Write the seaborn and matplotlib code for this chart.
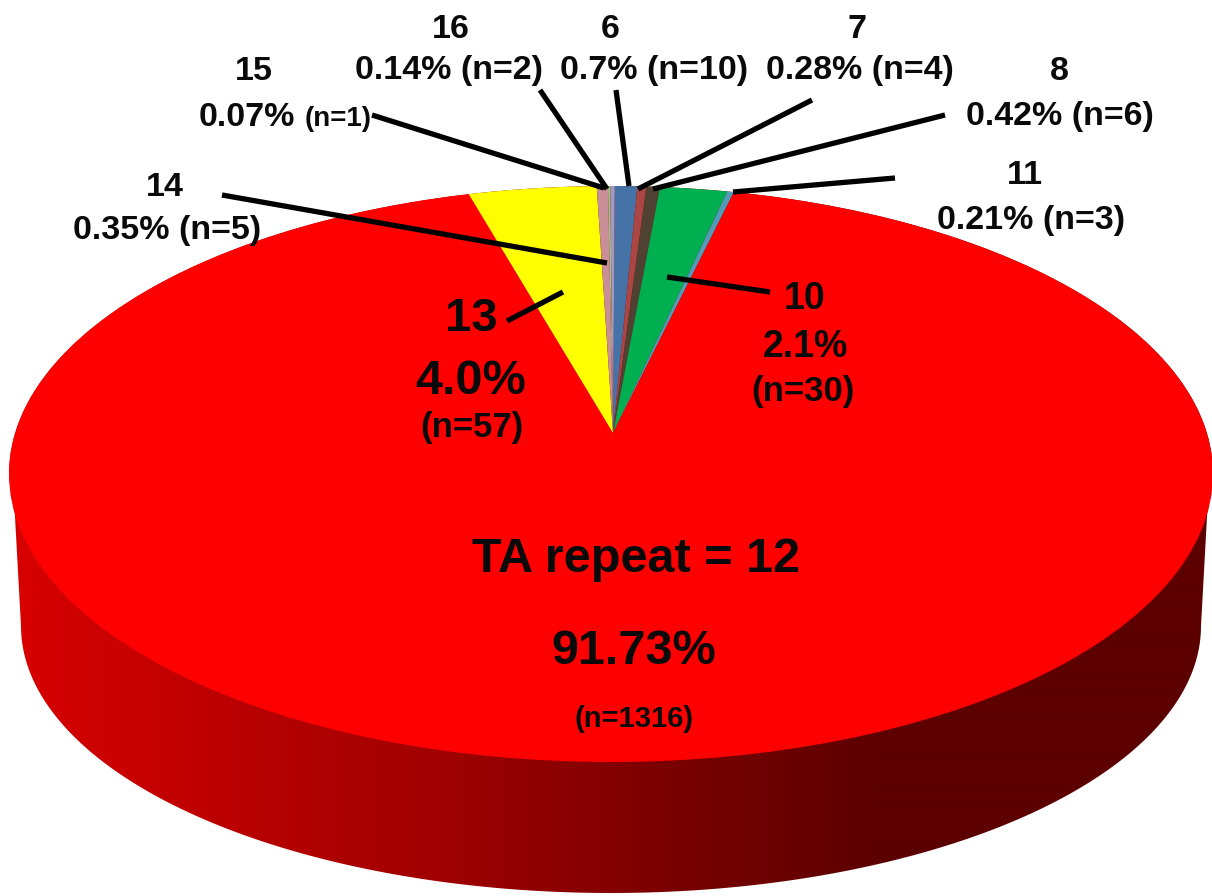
import numpy as np
import matplotlib
matplotlib.use("Agg")
import matplotlib.pyplot as plt
from matplotlib.patches import Ellipse, Polygon
import seaborn as sns

# ---- data ----
repeats = ["6", "7", "8", "10", "11", "12", "13", "14", "15", "16"]
counts = [10, 4, 6, 30, 3, 1316, 57, 5, 1, 2]
slice_colors = ["#4572A7", "#AA4643", "#4F4233", "#00B050", "#4F9BB8",
                "#FF0000", "#FFFF00", "#C98F98", "#A8C080", "#A099C0"]
side_colors = ["#DA0000", "#BC0000", "#A00000", "#7C0000", "#5C0000"]

W, H = 1212, 896
sns.set_theme(style="white")
plt.rcParams["font.family"] = ["Liberation Sans", "DejaVu Sans"]
fig = plt.figure(figsize=(W / 100, H / 100), dpi=100, facecolor="white")

# geometry of the tilted disc, in pixels
APEX = (613, 433)
TOP = (611, 474, 602, 288)
BOT = (611, 626, 590, 267)

# ---- side wall with horizontal shading ----
ax_side = fig.add_axes([0, 0, 1, 1])
ax_side.set_axis_off()
cmap = sns.blend_palette(side_colors, as_cmap=True)
shade = np.clip(np.linspace(0, W, W) / 880, 0, 1)[None, :]
im = ax_side.imshow(shade, cmap=cmap, vmin=0, vmax=1, aspect="auto",
                    extent=(0, W, H, 0), interpolation="bilinear")
ax_side.set_xlim(0, W)
ax_side.set_ylim(H, 0)
t = np.linspace(np.pi, 0, 300)
lower = np.c_[BOT[0] + BOT[2] * np.cos(t), BOT[1] + BOT[3] * np.sin(t)]
upper = np.c_[TOP[0] + TOP[2] * np.cos(t), TOP[1] - TOP[3] * np.sin(t)]
t0 = np.radians(8)
join_r = (TOP[0] + TOP[2] * np.cos(t0), TOP[1] + TOP[3] * np.sin(t0))
join_l = (TOP[0] - TOP[2] * np.cos(t0), TOP[1] + TOP[3] * np.sin(t0))
outline = np.vstack([[join_l], lower, [join_r], upper[::-1]])
clip = Polygon(outline, closed=True, transform=ax_side.transData,
               facecolor="none", edgecolor="none")
ax_side.add_patch(clip)
im.set_clip_path(clip)

# ---- top face: pie around the apex, cut by the ellipse ----
ax_pie = fig.add_axes([0, 0, 1, 1])
wedges, _ = ax_pie.pie(counts, colors=slice_colors, startangle=89.8,
                       counterclock=False, radius=3.5, center=(0, 0),
                       wedgeprops=dict(linewidth=0))
ax_pie.set_aspect("auto")
ax_pie.set_xlim((0 - APEX[0]) / TOP[2], (W - APEX[0]) / TOP[2])
ax_pie.set_ylim((APEX[1] - H) / TOP[3], APEX[1] / TOP[3])
ax_pie.patch.set_alpha(0)
ax_pie.set_axis_off()
face = Ellipse(((TOP[0] - APEX[0]) / TOP[2], (APEX[1] - TOP[1]) / TOP[3]),
               2, 2, transform=ax_pie.transData, facecolor="none", edgecolor="none")
ax_pie.add_patch(face)
for w in wedges:
    w.set_clip_on(True)
    w.set_clip_path(face)

# ---- labels and leader lines, in pixel coordinates ----
ax_top = fig.add_axes([0, 0, 1, 1])
ax_top.set_xlim(0, W)
ax_top.set_ylim(H, 0)
ax_top.patch.set_alpha(0)
ax_top.set_axis_off()

leaders = [
    ((540, 90), (607, 189)), ((372, 115), (604, 188)),
    ((616, 90), (629, 186)), ((812, 100), (638, 189)),
    ((945, 115), (653, 189)), ((895, 178), (733, 192)),
    ((222, 195), (607, 263)), ((507, 321), (563, 292)),
    ((770, 292), (667, 277)),
]
for (x0, y0), (x1, y1) in leaders:
    ax_top.plot([x0, x1], [y0, y1], color="black", lw=3.8, solid_capstyle="butt")

labels = [
    ("16", 451, 30, 24.5), ("0.14% (n=2)", 449, 71, 24.5),
    ("6", 610, 30, 24.5), ("0.7% (n=10)", 654, 71, 24.5),
    ("7", 857, 30, 24.5), ("0.28% (n=4)", 860, 71, 24.5),
    ("8", 1059, 72, 24.5), ("0.42% (n=6)", 1060, 117, 24.5),
    ("15", 254, 72, 24.5), ("0.07%", 247, 117, 24.5), ("(n=1)", 338, 119, 20),
    ("14", 165, 187, 24.5), ("0.35% (n=5)", 167, 230, 24.5),
    ("11", 1025, 176, 24.5), ("0.21% (n=3)", 1031, 221, 24.5),
    ("13", 471, 319, 34), ("4.0%", 471, 382, 35), ("(n=57)", 472, 427, 25),
    ("10", 804, 299, 27), ("2.1%", 805, 347, 27), ("(n=30)", 803, 392, 25),
    ("TA repeat = 12", 636, 560, 35), ("91.73%", 634, 651, 35),
    ("(n=1316)", 634, 719, 21),
]
for s, x, y, size in labels:
    ax_top.text(x, y, s, ha="center", va="center", fontsize=size,
                fontweight="bold", color="#0A0A0A")

fig.savefig("out.png", dpi=100)
